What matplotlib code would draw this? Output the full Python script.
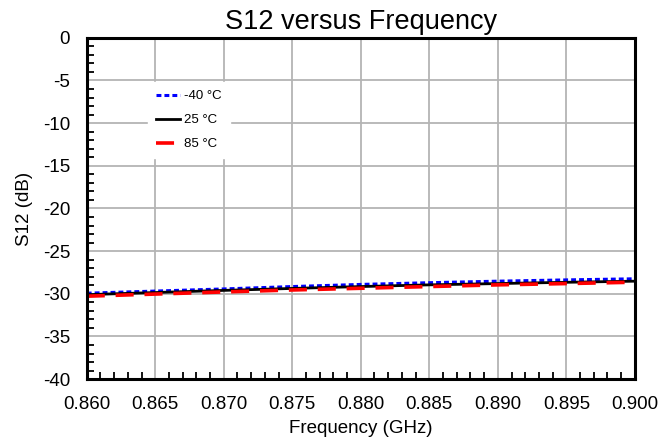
import matplotlib
matplotlib.use('Agg')
import matplotlib.pyplot as plt
from matplotlib.ticker import MultipleLocator

plt.rcParams['font.family'] = ['Liberation Sans', 'DejaVu Sans']

# 频率点 (GHz) 和三个温度下的 S12 (dB)
freq = [0.860, 0.865, 0.870, 0.875, 0.880, 0.885, 0.890, 0.895, 0.900]
s12_m40 = [-29.93, -29.68, -29.43, -29.15, -28.90, -28.70, -28.52, -28.37, -28.24]
s12_25 = [-30.10, -29.85, -29.60, -29.37, -29.15, -28.95, -28.80, -28.65, -28.52]
s12_85 = [-30.28, -30.03, -29.78, -29.55, -29.35, -29.15, -28.95, -28.80, -28.64]
labels = ['-40 °C', '25 °C', '85 °C']

fig = plt.figure(figsize=(6.62, 4.45), dpi=100)
ax = fig.add_axes([0.131, 0.148, 0.828, 0.767])

ax.plot(freq, s12_m40, color='#0000ff', linestyle=(0, (1.6, 1)), linewidth=2.2, label=labels[0])
ax.plot(freq, s12_25, color='black', linestyle='-', linewidth=2, label=labels[1])
ax.plot(freq, s12_85, color='#ff0000', linestyle=(0, (5, 3)), linewidth=2.6, label=labels[2])

ax.set_xlim(0.860, 0.900)
ax.set_ylim(-40, 0)
ax.xaxis.set_major_locator(MultipleLocator(0.005))
ax.xaxis.set_minor_locator(MultipleLocator(0.001))
ax.yaxis.set_major_locator(MultipleLocator(5))
ax.yaxis.set_minor_locator(MultipleLocator(1))
ax.set_xticks(ax.get_xticks())
ax.set_xticklabels(['%.3f' % v for v in ax.get_xticks()])
ax.set_yticks(ax.get_yticks())
ax.set_yticklabels(['%d' % v for v in ax.get_yticks()])
ax.set_xlim(0.860, 0.900)
ax.set_ylim(-40, 0)

ax.tick_params(which='both', direction='in', labelsize=13.5, width=1.3, color='black')
ax.tick_params(which='major', length=0)
ax.tick_params(axis='x', which='major', pad=12)
ax.tick_params(axis='y', which='major', pad=12)
ax.tick_params(which='minor', length=5)
ax.grid(True, which='major', color='#b4b4b4', linewidth=1.3)
ax.set_axisbelow(True)
for s in ax.spines.values():
    s.set_linewidth(2.2)

ax.set_title('S12 versus Frequency', fontsize=19.5, pad=6)
ax.set_xlabel('Frequency (GHz)', fontsize=13.5, labelpad=5)
ax.set_ylabel('S12 (dB)', fontsize=13.5, labelpad=7)

leg = ax.legend(loc='upper left', bbox_to_anchor=(0.1, 0.89), fontsize=9.5,
                frameon=True, fancybox=False, edgecolor='white', framealpha=1,
                handlelength=1.8, handletextpad=0.35, labelspacing=0.9, borderpad=0.6)

fig.savefig('out.png', dpi=100)
